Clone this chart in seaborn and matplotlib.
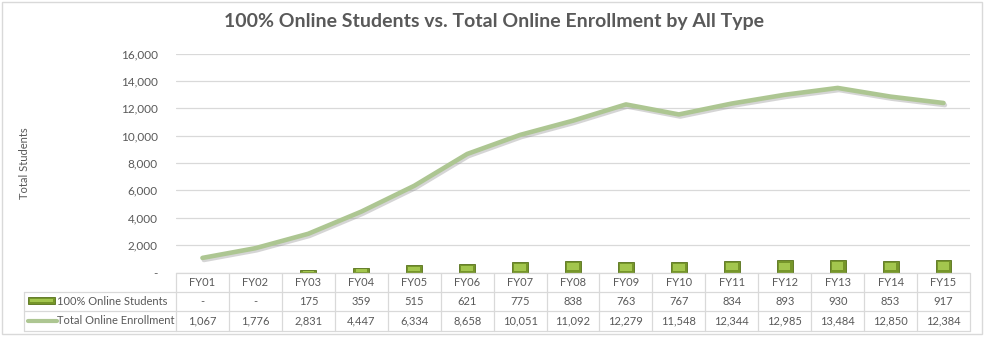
import numpy as np
import pandas as pd
import matplotlib
matplotlib.use("Agg")
import matplotlib.pyplot as plt
import seaborn as sns
import matplotlib.patheffects as pe
from matplotlib.patches import Rectangle
from matplotlib.lines import Line2D

categories = ["FY01", "FY02", "FY03", "FY04", "FY05", "FY06", "FY07", "FY08",
              "FY09", "FY10", "FY11", "FY12", "FY13", "FY14", "FY15"]
online_students = [0, 0, 175, 359, 515, 621, 775, 838, 763, 767, 834, 893, 930, 853, 917]
total_enrollment = [1067, 1776, 2831, 4447, 6334, 8658, 10051, 11092, 12279,
                    11548, 12344, 12985, 13484, 12850, 12384]
y_ticks = [0, 2000, 4000, 6000, 8000, 10000, 12000, 14000, 16000]
series_names = ["100% Online Students", "Total Online Enrollment"]
title = "100% Online Students vs. Total Online Enrollment by All Type"
y_label = "Total Students"

sns.set_theme(style="white")
plt.rcParams['font.family'] = ['Lato', 'DejaVu Sans']

TXT = "#595959"
GRID = "#d9d9d9"
BAR = "#76962a"
BAR_EDGE = "#56711a"
BAR_HI = "#a3c64e"
LINE = "#adc692"

W, H = 988, 337
fig = plt.figure(figsize=(W / 100, H / 100), dpi=100)
ax_l, ax_r, ax_t, ax_b = 176, 970, 53.5, 272.5
ax = fig.add_axes([ax_l / W, 1 - ax_b / H, (ax_r - ax_l) / W, (ax_b - ax_t) / H])

df = pd.DataFrame({"year": categories, "online": online_students, "total": total_enrollment})
sns.barplot(data=df, x="year", y="online", ax=ax, color=BAR, width=0.3,
            edgecolor=BAR_EDGE, linewidth=0.6, saturation=1, zorder=3)
# bevel highlight inside the bars
for p in list(ax.patches):
    x0, y0 = p.get_x(), p.get_y()
    w, h = p.get_width(), p.get_height()
    if h > 0:
        ax.add_patch(Rectangle((x0 + w * 0.14, y0 + h * 0.18), w * 0.72, h * 0.62,
                               facecolor=BAR_HI, edgecolor="none", zorder=4))

sns.lineplot(x=np.arange(len(categories)), y=total_enrollment, ax=ax, color=LINE,
             linewidth=3.3, zorder=5, solid_capstyle="round",
             path_effects=[pe.SimpleLineShadow(offset=(1, -1.5), shadow_color="#888888", alpha=0.35),
                           pe.Normal()])

ax.set_xlim(-0.5, len(categories) - 0.5)
ax.set_ylim(0, 16000)
ax.set_yticks(y_ticks)
ax.set_yticklabels(["-" if v == 0 else f"{v:,}" for v in y_ticks])
ax.tick_params(axis="y", length=0, pad=13, labelsize=8.5, labelcolor=TXT)
ax.set_xticks([])
ax.set_xlabel("")
ax.set_ylabel("")
ax.yaxis.grid(True, color=GRID, linewidth=0.9)
ax.set_axisbelow(True)
for s in ax.spines.values():
    s.set_visible(False)

fig.text(25 / W, 1 - 163 / H, y_label, rotation=90, ha="center", va="center",
         fontsize=8, color=TXT)
fig.text(0.5, 1 - 22 / H, title, ha="center", va="center", fontsize=14,
         fontweight="bold", color=TXT)

# data table
def fx(px):
    return px / W

def fy(py):
    return 1 - py / H

n = len(categories)
colw = (ax_r - ax_l) / n
edges = [ax_l + i * colw for i in range(n + 1)]
rows = [273, 291.7, 311, 330.5]
lab_l = 24

def hline(y, x0, x1):
    fig.add_artist(Line2D([fx(x0), fx(x1)], [fy(y), fy(y)], color=GRID, lw=0.9))

def vline(x, y0, y1):
    fig.add_artist(Line2D([fx(x), fx(x)], [fy(y0), fy(y1)], color=GRID, lw=0.9))

hline(rows[0], edges[0], edges[-1])
for r in rows[1:]:
    hline(r, lab_l, edges[-1])
for e in edges:
    vline(e, rows[0], rows[3])
vline(lab_l, rows[1], rows[3])

centers_y = [(rows[i] + rows[i + 1]) / 2 for i in range(3)]
for i, cat in enumerate(categories):
    cx = fx(edges[i] + colw / 2)
    fig.text(cx, fy(centers_y[0]), cat, ha="center", va="center", fontsize=8, color=TXT)
    v1 = online_students[i]
    fig.text(cx, fy(centers_y[1]), "-" if v1 == 0 else f"{v1:,}", ha="center",
             va="center", fontsize=8, color=TXT)
    fig.text(cx, fy(centers_y[2]), f"{total_enrollment[i]:,}", ha="center",
             va="center", fontsize=8, color=TXT)

# legend keys
fig.add_artist(Rectangle((fx(28), fy(304)), fx(55) - fx(28), fy(297) - fy(304),
                         facecolor=BAR, edgecolor=BAR_EDGE, lw=0.6))
fig.add_artist(Rectangle((fx(30), fy(302)), fx(53) - fx(30), fy(299) - fy(302),
                         facecolor=BAR_HI, edgecolor="none"))
fig.add_artist(Line2D([fx(28), fx(57)], [fy(centers_y[2]), fy(centers_y[2])],
                      color=LINE, lw=3.0, solid_capstyle="round"))
fig.text(fx(57), fy(centers_y[1]), series_names[0], ha="left", va="center", fontsize=8, color=TXT)
fig.text(fx(57), fy(centers_y[2]), series_names[1], ha="left", va="center", fontsize=8, color=TXT)

# chart border
fig.add_artist(Rectangle((fx(1.5), fy(334)), fx(982) - fx(1.5), fy(1.5) - fy(334),
                         fill=False, edgecolor=GRID, lw=1))

fig.savefig("out.png", dpi=100)
